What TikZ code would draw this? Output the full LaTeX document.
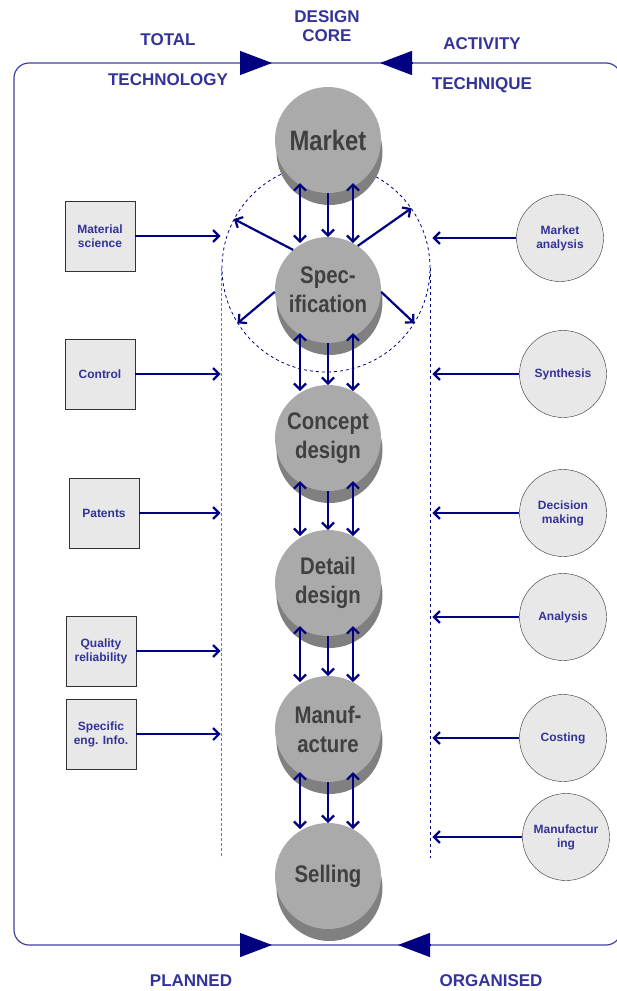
\documentclass[tikz,border=0pt]{standalone}
\usepackage{fontspec}
\setmainfont{Liberation Sans}
\newfontfamily\narrowsans[FakeStretch=0.85]{Liberation Sans}
\usetikzlibrary{arrows.meta,calc,shadows}

\definecolor{navy}{HTML}{000080}
\definecolor{labelblue}{HTML}{333399}
\definecolor{frameblue}{HTML}{4040A0}
\definecolor{dashblue}{HTML}{7070C0}
\definecolor{coregray}{HTML}{AAAAAA}
\definecolor{coreshade}{HTML}{808080}
\definecolor{coretext}{HTML}{404040}
\definecolor{boxgray}{HTML}{E8E8E8}

\tikzset{
    core/.style={circle,minimum size=106pt,inner sep=0pt,fill=coregray,text=coretext,align=center,
        font=\narrowsans\bfseries\fontsize{24}{29}\selectfont,
        drop shadow={shadow xshift=1.5pt,shadow yshift=-12pt,fill=coreshade,opacity=1}},
    techbox/.style={draw=black!80,fill=boxgray,minimum size=70pt,inner sep=1pt,align=center,
        text=labelblue,font=\bfseries\fontsize{12}{14}\selectfont},
    techcirc/.style={circle,draw=black!80,fill=boxgray,minimum size=87pt,inner sep=1pt,align=center,
        text=labelblue,font=\bfseries\fontsize{12}{14}\selectfont},
    flow/.style={draw=navy,line width=2.2pt},
    caption/.style={text=labelblue,font=\bfseries\fontsize{17}{19}\selectfont,align=center},
    frametip/.style={navy,line width=1.2pt,-{Triangle[length=32pt,width=24pt]}},
}

\begin{document}
\begin{tikzpicture}[x=1pt,y=-1pt,>={Straight Barb[length=6pt,width=12pt]}]
        \def\cx{328}
        \useasboundingbox (0,0) rectangle (617,991);
        \clip (0,0) rectangle (617,991);

        \draw[frameblue,line width=1.2pt,rounded corners=15pt] (14,63) rectangle (621,945);
        \draw[frametip] (240,63) -- (272,63);
        \draw[frametip] (412,63) -- (380,63);
        \draw[frametip] (240,945) -- (272,945);
        \draw[frametip] (430,945) -- (398,945);

        \node[caption] (core) at (327,26) {DESIGN\\CORE};
        \node[caption] (total) at (168,40) {TOTAL};
        \node[caption] (technology) at (168,80) {TECHNOLOGY};
        \node[caption] (activity) at (482,44) {ACTIVITY};
        \node[caption] (technique) at (482,85) {TECHNIQUE};
        \node[caption] (planned) at (191,981) {PLANNED};
        \node[caption] (organised) at (491,981) {ORGANISED};

        \node[circle,draw=navy,dashed,line width=0.8pt,minimum size=208pt,inner sep=0pt] (zone) at (326,268) {};
        \draw[dashblue,densely dashed,line width=1pt] (zone.west) -- ++(0,590);
        \draw[navy,dashed,line width=0.8pt] (zone.east) -- ++(0,590);

        \node[core,font=\narrowsans\bfseries\fontsize{28}{32}\selectfont] (mkt) at (\cx,140) {Market};
        \foreach \y/\name/\txt in {290/spec/{Spec-\\ification},438/con/{Concept\\design},583/det/{Detail\\design},729/man/{Manuf-\\acture},876/sel/Selling} {
                \node[core] (\name) at (\cx,\y) {\txt};
            }

        \foreach \a/\b in {mkt/spec,spec/con,con/det,det/man,man/sel} {
                \draw[flow,<->] ($(\a)+(-28,43)$) -- ($(\b)+(-28,-47)$);
                \draw[flow,->] ($(\a)+(0,53)$) -- ($(\b)+(0,-53)$);
                \draw[flow,<->] ($(\a)+(25,43)$) -- ($(\b)+(25,-47)$);
            }

        \foreach \s/\e in {131/152,56/35,182/212,358/328} {
                \draw[flow,->] (spec.\s) -- (zone.\e);
            }

        \foreach \x/\y/\name/\txt in {100/236/matsci/{Material\\science},100/374/control/Control,104/513/patents/Patents,101/651/quality/{Quality\\reliability},101/734/speceng/{Specific\\eng. Info.}} {
                \node[techbox] (\name) at (\x,\y) {\txt};
                \draw[flow,->,shorten >=1pt] (\name.east) -- (\name.east -| zone.west);
            }

        \foreach \x/\y/\name/\txt in {560/238/mktan/{Market\\analysis},563/374/synth/Synthesis,563/513/decide/{Decision\\making},563/617/anal/Analysis,563/738/cost/Costing,566/837/mfg/{Manufactur\\ing}} {
                \node[techcirc] (\name) at (\x,\y) {\txt};
                \draw[flow,->,shorten >=2pt] (\name.west) -- (\name.west -| zone.east);
            }

    \end{tikzpicture}
\end{document}
